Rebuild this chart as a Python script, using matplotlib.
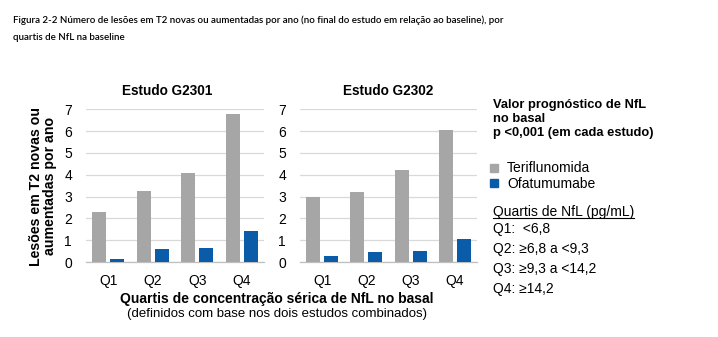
import matplotlib
matplotlib.use("Agg")
import matplotlib.pyplot as plt
from matplotlib.lines import Line2D
from matplotlib.patches import Rectangle
from matplotlib import font_manager
import numpy as np

plt.rcParams['font.family'] = ['Liberation Sans', 'DejaVu Sans']

categories = ["Q1", "Q2", "Q3", "Q4"]
studies = ["Estudo G2301", "Estudo G2302"]
teri_g2301 = [2.3, 3.25, 4.07, 6.8]
ofa_g2301 = [0.14, 0.6, 0.63, 1.42]
teri_g2302 = [2.98, 3.2, 4.22, 6.05]
ofa_g2302 = [0.29, 0.46, 0.5, 1.07]
series_names = ["Teriflunomida", "Ofatumumabe"]
quartile_defs = ["Q1:  <6,8", "Q2: \u22656,8 a <9,3", "Q3: \u22659,3 a <14,2", "Q4: \u226514,2"]
caption = ["Figura 2-2 Número de lesões em T2 novas ou aumentadas por ano (no final do estudo em relação ao baseline), por",
           "quartis de NfL na baseline"]

GREY = "#A6A6A6"
BLUE = "#0B5CA8"
GRID = "#D9D9D9"

W, H = 718, 337
fig = plt.figure(figsize=(W / 100, H / 100), dpi=100)

def px(x, y):
    return x / W, 1 - y / H

def add_ax(x0, x1, ytop, ybot):
    return fig.add_axes([x0 / W, 1 - ybot / H, (x1 - x0) / W, (ybot - ytop) / H])

axes = [add_ax(86, 264, 109.3, 262), add_ax(300, 477, 109.3, 262)]
data = [(teri_g2301, ofa_g2301), (teri_g2302, ofa_g2302)]
title_x = [(167.5 - 86) / 178, 0.5]

x = np.arange(len(categories))
bw = 0.316
off = 0.205
for ax, (t, o), title, tx in zip(axes, data, studies, title_x):
    ax.bar(x - off, t, bw, color=GREY, zorder=3)
    ax.bar(x + off, o, bw, color=BLUE, zorder=3)
    ax.set_xlim(-0.5, 3.5)
    ax.set_ylim(0, 7)
    ax.set_yticks(range(0, 8))
    ax.set_xticks(x)
    ax.set_xticklabels(categories)
    ax.tick_params(axis='both', length=0, labelsize=10, colors='black')
    ax.tick_params(axis='y', pad=10)
    ax.tick_params(axis='x', pad=9)
    ax.grid(axis='y', color=GRID, linewidth=0.9, zorder=0)
    for s in ['top', 'right', 'left']:
        ax.spines[s].set_visible(False)
    ax.spines['bottom'].set_color('#BFBFBF')
    ax.spines['bottom'].set_linewidth(0.9)
    ax.set_title(title, fontsize=9.8, fontweight='bold', pad=10, x=tx)

# y label
fig.text(*px(43, 186), "Lesões em T2 novas ou\naumentadas por ano", rotation=90,
         ha='center', va='center', fontsize=10.2, fontweight='bold', multialignment='center',
         linespacing=1.0)

# x label
fig.text(*px(277, 299), "Quartis de concentração sérica de NfL no basal",
         ha='center', va='center', fontsize=10, fontweight='bold')
fig.text(*px(277, 313.5), "(definidos com base nos dois estudos combinados)",
         ha='center', va='center', fontsize=9.5)

# figure caption (Calibri-like narrow font, size fitted to the reference width)
names = {f.name for f in font_manager.fontManager.ttflist}
cap_font = None
for cand in ['Liberation Sans Narrow', 'Lato', 'Roboto']:
    if cand in names:
        cap_font = cand
        break
cap_family = [cap_font, 'DejaVu Sans'] if cap_font else ['DejaVu Sans']
cap1 = fig.text(*px(13, 20), caption[0], ha='left', va='center', fontsize=9.5,
                family=cap_family, fontweight='semibold')
cap2 = fig.text(*px(13, 37), caption[1], ha='left', va='center', fontsize=9.5,
                family=cap_family, fontweight='semibold')

# right side notes
fig.text(*px(493, 105), "Valor prognóstico de NfL", ha='left', va='center', fontsize=9.3, fontweight='bold')
fig.text(*px(493, 119), "no basal", ha='left', va='center', fontsize=9.3, fontweight='bold')
fig.text(*px(493, 133), "p <0,001 (em cada estudo)", ha='left', va='center', fontsize=9.3, fontweight='bold')

for i, (name, col) in enumerate(zip(series_names, [GREY, BLUE])):
    yc = 167.5 + i * 16
    fig.patches.append(Rectangle(px(489.5, yc + 4), 8 / W, 8 / H, transform=fig.transFigure,
                                 color=col, figure=fig))
    fig.text(*px(507, yc), name, ha='left', va='center', fontsize=10)

qt = fig.text(*px(493, 212), "Quartis de NfL (pg/mL)", ha='left', va='center', fontsize=10)
for i, s in enumerate(quartile_defs):
    fig.text(*px(493, 228.5 + i * 20.3), s, ha='left', va='center', fontsize=10)

fig.canvas.draw()
r = fig.canvas.get_renderer()
wcur = cap1.get_window_extent(r).width
fs = 9.5 * 489.0 / wcur
cap1.set_fontsize(fs)
cap2.set_fontsize(fs)
fig.canvas.draw()
bb = qt.get_window_extent().transformed(fig.transFigure.inverted())
fig.add_artist(Line2D([bb.x0, bb.x1], [bb.y0 + 0.002, bb.y0 + 0.002], transform=fig.transFigure,
                      color='black', linewidth=0.8))

fig.savefig("out.png", dpi=100)
